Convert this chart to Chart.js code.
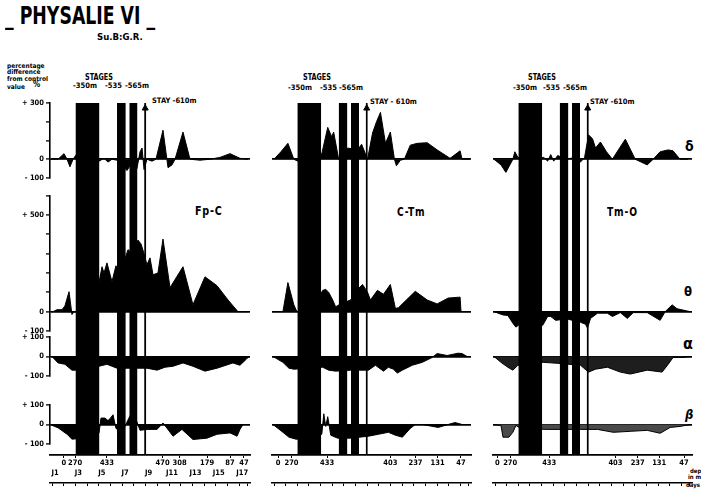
<!DOCTYPE html>
<html><head><meta charset="utf-8">
<script src="https://cdn.jsdelivr.net/npm/chart.js@4.4.1/dist/chart.umd.min.js"></script>
<style>
html,body{margin:0;padding:0;background:#fff;}
body{width:701px;height:490px;position:relative;overflow:hidden;font-family:'Liberation Sans Narrow','DejaVu Sans Condensed','Roboto Condensed','Arial Narrow',Roboto,sans-serif;font-weight:bold;color:#000;}
.t{position:absolute;white-space:nowrap;line-height:1;transform-origin:0 0;}
canvas{position:absolute;top:0;}
</style></head><body>
<div class="t" style="left:5px;top:3px;font-size:25px;transform:scaleX(.77);">_ PHYSALIE VI _</div>
<div class="t" style="left:97px;top:32px;font-size:9.5px;">Su.B:G.R.</div>
<div class="t" style="left:7px;top:63px;font-size:6.5px;">percentage</div>
<div class="t" style="left:7px;top:68.5px;font-size:6.5px;">difference</div>
<div class="t" style="left:7px;top:76px;font-size:6.5px;">from control</div>
<div class="t" style="left:7px;top:84px;font-size:6.5px;">value</div>
<div class="t" style="left:33px;top:81px;font-size:8px;">%</div>

<div class="t" style="left:85px;top:74px;font-size:8px;transform:scaleX(.9);">STAGES</div>
<div class="t" style="left:73px;top:82px;font-size:7.5px;">-350m</div>
<div class="t" style="left:105px;top:82px;font-size:7.5px;">-535</div>
<div class="t" style="left:125px;top:82px;font-size:7.5px;">-565m</div>
<div class="t" style="left:152px;top:97px;font-size:7.5px;">STAY -610m</div>

<div class="t" style="left:303px;top:74px;font-size:8px;transform:scaleX(.9);">STAGES</div>
<div class="t" style="left:288px;top:84px;font-size:7.5px;">-350m</div>
<div class="t" style="left:320px;top:84px;font-size:7.5px;">-535</div>
<div class="t" style="left:339px;top:84px;font-size:7.5px;">-565m</div>
<div class="t" style="left:370px;top:98px;font-size:7.5px;">STAY - 610m</div>

<div class="t" style="left:528px;top:74px;font-size:8px;transform:scaleX(.9);">STAGES</div>
<div class="t" style="left:513px;top:84px;font-size:7.5px;">-350m</div>
<div class="t" style="left:543px;top:84px;font-size:7.5px;">-535</div>
<div class="t" style="left:563px;top:84px;font-size:7.5px;">-565m</div>
<div class="t" style="left:590px;top:98px;font-size:7.5px;">STAY -610m</div>

<div class="t" style="left:195px;top:204px;font-size:13px;letter-spacing:1px;transform:scaleX(.82);">Fp-C</div>
<div class="t" style="left:397px;top:206px;font-size:12px;letter-spacing:1px;transform:scaleX(.85);">C-Tm</div>
<div class="t" style="left:607px;top:206px;font-size:12px;letter-spacing:1px;transform:scaleX(.85);">Tm-O</div>

<div class="t" style="left:685px;top:139px;font-size:14px;">δ</div>
<div class="t" style="left:684px;top:285px;font-size:13px;">θ</div>
<div class="t" style="left:683px;top:336px;font-size:16px;">α</div>
<div class="t" style="left:685px;top:408px;font-size:13px;font-style:italic;">β</div>

<div class="t" style="left:690px;top:468px;font-size:6px;">depth</div>
<div class="t" style="left:688px;top:474px;font-size:6px;">in meters</div>
<div class="t" style="left:686px;top:482px;font-size:6px;">days</div>

<canvas id="k1" width="256" height="490" style="left:0px"></canvas>
<canvas id="k2" width="210" height="490" style="left:267px"></canvas>
<canvas id="k3" width="213" height="490" style="left:488px"></canvas>

<script>
// ---- x range (days) ----
const DAY_MIN = 0.573, DAY_MAX = 17.667;

// ---- stage periods (days) ----
const stage350 = [2.75, 4.8];
const stage535 = [6.3, 7.05];
const stage565 = [7.35, 8.05];
const stay610  = [8.62, 8.8];

// ---- x tick labels ----
const dayTickDays   = [1, 3, 5, 7, 9, 11, 13, 15, 17];
const dayTickLabels = ['J1','J3','J5','J7','J9','J11','J13','J15','J17'];
const rulerDays = [0.75,1.75,2.75,3.75,4.75,5.75,6.75,7.75,8.75,9.75,10.75,11.75,12.75,13.75,14.75,15.75,16.75,17.45];

const depthDaysFpC   = [1.75, 2.72, 5.44, 10.2, 11.65, 14.0, 15.96, 17.15];
const depthLabelsFpC = ['0','270','433','470','308','179','87','47'];
const depthDaysCTm   = [1.1, 2.25, 5.3, 10.74, 12.9, 14.8, 16.8];
const depthLabelsCTm = ['0','270','433','403','237','131','47'];
const depthDaysTmO   = [0.95, 2.05, 5.4, 11.09, 13.0, 14.85, 16.98];
const depthLabelsTmO = ['0','270','433','403','237','131','47'];

// ---- y tick labels ----
const yLabelsDelta = {'300':'+ 300','0':'0','-100':'- 100'};
const yLabelsTheta = {'500':'+ 500','0':'0','-100':'- 100'};
const yLabelsSmall = {'100':'+ 100','0':'0','-100':'- 100'};

// ---- series: [day, % difference] ----
const deltaFpC = [[0.57,0],[1.26,0],[1.77,30],[2.03,0],[2.28,-40],[2.54,0],[2.88,30],[3.56,0],[4.76,-10],[5.19,5],[5.53,-15],[5.87,0],[6.3,-5],[6.73,-30],[7.15,-60],[7.58,-20],[8.0,-50],[8.27,40],[8.44,60],[8.61,-55],[8.86,0],[9.29,-10],[9.63,0],[10.23,155],[10.66,-45],[11.0,-30],[11.26,0],[11.94,145],[12.54,0],[13.39,-5],[14.25,0],[15.1,10],[15.96,30],[16.81,5],[17.5,0]];
const deltaCTm = [[0.74,0],[1.34,40],[1.94,85],[2.45,0],[2.79,-10],[3.91,0],[4.85,30],[5.36,170],[5.7,120],[5.87,145],[6.3,0],[7.07,60],[7.92,50],[8.27,80],[8.78,0],[9.21,140],[9.55,200],[9.89,250],[10.32,85],[10.74,145],[11.09,0],[11.26,-35],[11.6,-5],[11.94,0],[12.45,75],[13.05,85],[13.91,88],[14.76,50],[15.87,5],[16.73,45],[16.9,0],[17.58,0]];
const deltaTmO = [[0.66,0],[1.26,-30],[1.68,-70],[2.28,0],[2.45,40],[2.71,10],[3.82,0],[4.93,10],[5.27,-10],[5.53,25],[5.79,-10],[6.13,20],[6.81,0],[7.67,10],[8.09,-15],[8.44,10],[8.78,130],[9.12,110],[9.38,60],[9.8,92],[10.32,40],[10.83,0],[11.34,50],[11.94,107],[12.79,0],[13.82,-30],[14.33,0],[14.93,40],[15.62,50],[16.04,45],[16.64,0],[17.33,0]];

const thetaFpC = [[0.57,0],[0.83,0],[1.17,10],[1.6,10],[1.85,30],[2.2,103],[2.45,-15],[2.62,0],[3.56,0],[4.76,150],[5.02,232],[5.19,200],[5.44,252],[5.87,155],[6.21,237],[6.56,200],[7.24,320],[7.67,300],[8.09,370],[8.35,350],[8.61,300],[8.86,242],[9.12,278],[9.38,190],[9.8,200],[10.23,375],[10.83,124],[11.94,232],[12.79,36],[13.82,180],[14.85,134],[15.79,60],[16.64,0],[17.5,0]];
const thetaCTm = [[0.66,0],[1.51,0],[1.94,150],[2.45,35],[2.71,0],[3.91,0],[4.93,110],[5.19,115],[5.44,100],[5.79,60],[6.04,25],[6.47,40],[7.32,60],[8.01,120],[8.35,140],[8.78,100],[9.03,60],[9.63,110],[10.15,90],[10.74,140],[11.17,17],[11.43,20],[12.88,105],[13.91,60],[14.76,40],[15.7,70],[16.73,75],[16.81,0],[17.58,0]];
const thetaTmO = [[0.66,0],[1.43,-17],[1.85,-20],[2.28,-60],[2.54,-80],[2.97,-60],[4.85,-70],[5.27,-25],[5.53,-25],[5.96,-45],[6.56,-40],[7.07,-40],[8.09,-55],[8.52,-65],[8.69,-85],[8.95,-35],[9.55,-8],[10.4,-8],[10.83,-25],[11.51,-5],[12.11,-35],[12.62,-5],[13.82,-5],[14.93,-45],[15.36,0],[15.96,35],[16.38,15],[16.9,8],[17.5,0]];

const alphaFpC = [[0.57,0],[0.74,0],[1.26,-33],[1.85,-40],[2.45,-70],[3.56,-70],[4.76,-50],[5.44,-40],[6.3,-60],[7.41,-60],[8.86,-60],[9.72,-70],[10.4,-55],[11.09,-50],[11.94,-33],[12.79,-50],[13.82,-75],[14.85,-60],[16.21,-33],[16.81,-45],[17.33,-15],[17.58,0]];
const alphaCTm = [[0.66,0],[1.51,-30],[2.03,-60],[2.45,-65],[3.91,-60],[4.93,-55],[5.44,-70],[6.04,-75],[7.32,-70],[8.86,-70],[9.46,-45],[10.15,-75],[10.57,-55],[11.0,-65],[11.34,-85],[11.77,-70],[12.62,-45],[13.48,-30],[14.33,-5],[14.76,15],[15.62,5],[16.56,17],[16.9,15],[17.33,0],[17.58,0]];
const alphaTmO = [[0.66,0],[1.26,-30],[1.85,-55],[2.28,-70],[2.71,-45],[4.93,-30],[6.13,-35],[8.09,-45],[8.78,-80],[9.38,-65],[10.4,-55],[11.51,-80],[12.37,-90],[13.82,-70],[15.1,-80],[15.62,-40],[16.04,-5],[16.9,-5],[17.5,0]];

const betaFpC = [[0.57,0],[1.26,-17],[2.03,-50],[2.45,-75],[3.56,-70],[4.76,-45],[4.93,33],[5.27,33],[5.53,20],[5.7,30],[5.96,50],[6.21,-20],[6.73,-40],[7.58,65],[7.84,40],[8.27,-30],[8.86,-25],[9.72,-25],[10.23,8],[11.09,-60],[11.85,-25],[12.79,-77],[13.99,-70],[14.85,-50],[15.96,-43],[16.56,-60],[16.81,-25],[17.07,0],[17.5,0]];
const betaCTm = [[0.66,0],[1.51,-40],[2.03,-65],[2.62,-75],[3.91,-75],[4.85,-50],[5.02,55],[5.19,-10],[5.36,40],[5.62,-55],[6.21,-70],[7.32,-70],[8.86,-60],[9.72,-50],[10.57,-40],[11.17,-55],[11.77,-65],[12.45,-20],[12.88,0],[13.48,0],[14.85,-15],[15.7,0],[16.3,10],[16.9,0],[17.58,0]];
const betaTmO = [[0.66,0],[1.26,-5],[1.43,-65],[1.94,-65],[2.28,-40],[2.54,-5],[2.97,-20],[5.27,-25],[8.09,-25],[9.55,-25],[10.91,-40],[12.37,-35],[13.82,-30],[14.93,-45],[15.79,-15],[16.64,-10],[17.5,0]];

// ---------------------------------------------------------------
const FONT = "'Liberation Sans Narrow','DejaVu Sans Condensed','Roboto Condensed','Arial Narrow',Roboto,sans-serif";

function rowAxis(min, max, labels, weight, stackWeight, show) {
  return {
    type: 'linear', position: 'left', stack: 'rows', stackWeight, weight, min, max,
    display: true,
    afterBuildTicks: s => { const t = []; for (let v = min; v <= max; v += 100) t.push({value: v}); s.ticks = t; },
    ticks: { display: show, autoSkip: false, padding: 2, color: '#000',
             font: { family: FONT, size: 7.5, weight: 'bold' },
             callback: v => labels[String(v)] || '' },
    grid: { drawOnChartArea: true, drawTicks: show, tickLength: 4, tickColor: '#000', tickWidth: 1.3,
            color: c => (c.tick && c.tick.value === 0) ? '#000' : 'rgba(0,0,0,0)', lineWidth: 1.8 },
    border: { display: show, color: '#000', width: 1.6 },
    afterFit: s => { s.width = show ? 50 : 0; }
  };
}
function spacer(weight, stackWeight) {
  return { type: 'linear', position: 'left', stack: 'rows', stackWeight, weight, min: 0, max: 1, display: false };
}
function area(points, axis, fillStyle) {
  return { type: 'line', yAxisID: axis, data: points.map(p => ({x: p[0], y: p[1]})),
           borderColor: '#000', borderWidth: 1, backgroundColor: fillStyle || '#000',
           fill: 'origin', pointRadius: 0, tension: 0 };
}
function stageBlock(span) {
  return { type: 'line', yAxisID: 'yS', data: [{x: span[0], y: 1}, {x: span[1], y: 1}],
           borderWidth: 0, borderColor: '#000', backgroundColor: '#000', fill: 'start', pointRadius: 0 };
}

function makeChart(id, opts) {
  const datasets = [
    stageBlock(stage350), stageBlock(stage535), stageBlock(stage565), stageBlock(stay610),
    { type: 'line', yAxisID: 'yS', data: [{x: (stay610[0] + stay610[1]) / 2, y: 0.985}], showLine: false,
      pointStyle: 'triangle', pointRadius: 3.5, backgroundColor: '#000', borderColor: '#000', clip: false },
    area(opts.delta, 'yD'), area(opts.theta, 'yT'),
    area(opts.alpha, 'yA', opts.alphaFill), area(opts.beta, 'yB', opts.betaFill)
  ];
  const xBase = { type: 'linear', position: 'bottom', min: DAY_MIN, max: DAY_MAX };
  new Chart(document.getElementById(id), {
    type: 'line',
    data: { datasets },
    options: {
      responsive: false, animation: false, devicePixelRatio: 1,
      layout: { padding: { top: 103, bottom: 0, left: opts.padLeft, right: opts.padRight } },
      plugins: { legend: { display: false }, tooltip: { enabled: false } },
      scales: {
        x: Object.assign({}, xBase, {
          afterBuildTicks: s => { s.ticks = opts.depthDays.map(v => ({value: v})); },
          ticks: { autoSkip: false, maxRotation: 0, padding: 1, color: '#000',
                   font: { family: FONT, size: 7.5, weight: 'bold' },
                   callback: (v, i) => opts.depthLabels[i] },
          grid: { drawOnChartArea: false, drawTicks: true, tickLength: 3, color: '#000', lineWidth: 1 },
          border: { display: true, color: '#000', width: 1.8 },
          afterFit: s => { s.height = 14; }
        }),
        xd: Object.assign({}, xBase, {
          afterBuildTicks: s => { s.ticks = dayTickDays.map(v => ({value: v})); },
          ticks: { display: opts.showDays, autoSkip: false, maxRotation: 0, padding: 0, color: '#000',
                   font: { family: FONT, size: 7.5, weight: 'bold' },
                   callback: (v, i) => dayTickLabels[i] },
          grid: { drawOnChartArea: false, drawTicks: false },
          border: { display: false },
          afterFit: s => { s.height = 14; }
        }),
        xr: Object.assign({}, xBase, {
          afterBuildTicks: s => { s.ticks = rulerDays.map(v => ({value: v})); },
          ticks: { display: false },
          grid: { drawOnChartArea: false, drawTicks: true, tickLength: 3, color: '#000', lineWidth: 1 },
          border: { display: true, color: '#000', width: 1.4 },
          afterFit: s => { s.height = 7; }
        }),
        yD: rowAxis(-100, 300, yLabelsDelta, 8, 75, opts.showY),
        g1: spacer(7, 17.5),
        yT: rowAxis(-100, 600, yLabelsTheta, 6, 135.5, opts.showY),
        g2: spacer(5, 6),
        yA: rowAxis(-100, 100, yLabelsSmall, 4, 39, opts.showY),
        g3: spacer(3, 29),
        yB: rowAxis(-100, 100, yLabelsSmall, 2, 39, opts.showY),
        g4: spacer(1, 11),
        yS: { type: 'linear', position: 'left', display: false, min: 0, max: 1 }
      }
    }
  });
}

makeChart('k1', { delta: deltaFpC, theta: thetaFpC, alpha: alphaFpC, beta: betaFpC,
  depthDays: depthDaysFpC, depthLabels: depthLabelsFpC, showDays: true, showY: true, padLeft: 0, padRight: 6 });
makeChart('k2', { delta: deltaCTm, theta: thetaCTm, alpha: alphaCTm, beta: betaCTm,
  depthDays: depthDaysCTm, depthLabels: depthLabelsCTm, showDays: false, showY: false, padLeft: 4, padRight: 6 });
makeChart('k3', { delta: deltaTmO, theta: thetaTmO, alpha: alphaTmO, beta: betaTmO,
  alphaFill: '#1e1e1e', betaFill: '#4a4a4a',
  depthDays: depthDaysTmO, depthLabels: depthLabelsTmO, showDays: false, showY: false, padLeft: 4, padRight: 9 });
</script>
</body></html>
